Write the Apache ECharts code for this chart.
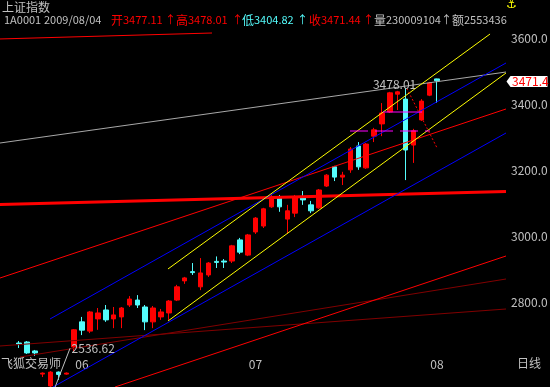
<!DOCTYPE html>
<html><head><meta charset="utf-8">
<script src="https://cdn.jsdelivr.net/npm/echarts@6/dist/echarts.min.js"></script>
<style>html,body{margin:0;padding:0;background:#000;}#c{width:550px;height:387px;}</style>
</head><body><div id="c"></div>
<script>
// ---------- data ----------
const dates = ['2009-05-19','2009-05-20','2009-05-21','2009-05-22','2009-05-25','2009-05-26','2009-05-27',
 '2009-06-01','2009-06-02','2009-06-03','2009-06-04','2009-06-05','2009-06-08','2009-06-09','2009-06-10','2009-06-11','2009-06-12',
 '2009-06-15','2009-06-16','2009-06-17','2009-06-18','2009-06-19','2009-06-22','2009-06-23','2009-06-24','2009-06-25','2009-06-26',
 '2009-06-29','2009-06-30',
 '2009-07-01','2009-07-02','2009-07-03','2009-07-06','2009-07-07','2009-07-08','2009-07-09','2009-07-10','2009-07-13','2009-07-14',
 '2009-07-15','2009-07-16','2009-07-17','2009-07-20','2009-07-21','2009-07-22','2009-07-23','2009-07-24','2009-07-27','2009-07-28',
 '2009-07-29','2009-07-30','2009-07-31',
 '2009-08-03','2009-08-04'];
const opens  = [2678,2681,2654,2584,2548,2590,2584,2666,2742,2714,2751,2778,2751,2757,2793,2808,2787,2742,2757,2769,2808,2866,2894,2848,2884,2925,2926,2926,2990,2944,3014,3032,3090,3117,3053,3071,3117,3096,3087,3153,3211,3180,3202,3274,3208,3304,3341,3377,3431,3416,3277,3353,3428,3477.11];
const closes = [2675,2648,2648,2587,2590,2583,2587,2718,2717,2772,2769,2748,2763,2784,2811,2793,2742,2784,2772,2805,2848,2875,2891,2890,2920,2922,2923,2972,2953,3005,3056,3084,3120,3090,3078,3120,3111,3078,3141,3186,3180,3186,3265,3211,3280,3323,3374,3435,3438,3262,3320,3410,3465,3471.44];
const lows   = [2663,2645,2639,2575,2536.62,2566,2582,2651,2702,2708,2718,2742,2723,2723,2787,2784,2717,2723,2748,2748,2805,2857,2884,2838,2878,2905,2905,2920,2947,2941,3008,3026,3087,3075,3008,3059,3096,3071,3084,3150,3168,3156,3193,3202,3205,3286,3304,3374,3383,3171,3223,3350,3425,3404.82];
const highs  = [2684,2684,2657,2589,2593,2592,2589,2720,2757,2775,2784,2793,2787,2787,2820,2823,2793,2790,2781,2808,2854,2878,2920,2935,2923,2940,2932,2975,2996,3008,3059,3087,3126,3126,3096,3126,3138,3108,3144,3189,3214,3196,3271,3286,3283,3329,3404,3438,3441,3450,3326,3416,3468,3478.01];
const volume = '230009104';
const amount = '2553436';
const priceTicks = [2800, 3000, 3200, 3400, 3600];
const monthLabels = ['06', '07', '08'];

// trend lines drawn on the chart: [index, price] end points
const grayLine     = [[-2.408, 3283.2], [61.72, 3498.0]];
const yellowUpper  = [[18.88, 2902.0], [59.70, 3613.0]];
const yellowLower  = [[18.88, 2744.6], [61.72, 3495.0]];
const blueUpper    = [[3.93, 2750.7], [61.72, 3525.3]];
const blueLower    = [[4.31, 2544.9], [61.72, 3313.5]];
const redThick     = [[-2.408, 3096.8], [61.72, 3136.5]];
const redA         = [[-2.408, 2874.7], [61.72, 3386.1]];
const redB         = [[12.17, 2544.9], [61.72, 2941.3]];
const redTop       = [[-2.408, 3598.0], [24.46, 3616.0]];
const darkRedC     = [[-2.408, 2669.0], [61.72, 2780.9]];
const darkRedD     = [[0.13, 2635.7], [61.72, 2871.7]];
const magentaSolid = [[46.13, 3377.0], [51.08, 3377.0]];
const magentaDash  = [[41.95, 3319.5], [52.09, 3319.5]];
const redDash      = [[49.14, 3448.7], [52.94, 3270.2]];

// ---------- chart ----------
const XMIN = -2.408, XMAX = 61.72;
const YMAX = 3700, YMIN = 2544.93;
const UP = '#ff0000', DOWN = '#54fcfc', GRAY = '#c0c0c0';
const FONT = '"Noto Sans CJK SC", sans-serif';

const monthIdx = [];
dates.forEach((d, i) => { if (i > 0 && d.slice(5,7) !== dates[i-1].slice(5,7)) monthIdx.push(i); });

const kData = dates.map((d, i) => [i, opens[i], closes[i], lows[i], highs[i]]);

function seg(data, color, width, type, z) {
  return { type: 'line', data: data, symbol: 'none', showSymbol: false, silent: true, clip: false,
    lineStyle: { color: color, width: width || 1, type: type || 'solid' }, z: z || 3, animation: false };
}

const chart = echarts.init(document.getElementById('c'), null, { renderer: 'canvas' });
chart.setOption({
  backgroundColor: '#000000',
  animation: false,
  textStyle: { fontFamily: FONT },
  grid: { left: 0, top: 5.25, width: 506, height: 381.75, outerBoundsMode: 'none' },
  xAxis: {
    type: 'value', min: XMIN, max: XMAX, offset: -37,
    axisLine: { show: false }, axisTick: { show: false }, splitLine: { show: false },
    axisLabel: { customValues: monthIdx, color: GRAY, fontSize: 12, fontFamily: FONT, align: 'left', margin: 8,
      padding: [0, 0, 0, 1],
      formatter: v => monthLabels[monthIdx.indexOf(Math.round(v))] || '' }
  },
  yAxis: {
    type: 'value', position: 'right', min: YMIN, max: YMAX,
    axisLine: { show: false }, axisTick: { show: false }, splitLine: { show: false },
    axisLabel: { customValues: priceTicks, color: GRAY, fontSize: 12, fontFamily: FONT, margin: 5,
      formatter: v => Number(v).toFixed(1) }
  },
  series: [
    seg(darkRedC, '#800000', 1),
    seg(darkRedD, '#800000', 1),
    seg(redB, UP, 1),
    seg(grayLine, '#a8a8a8', 1),
    seg(redTop, UP, 1),
    {
      type: 'candlestick', data: kData, encode: { x: 0, y: [1, 2, 3, 4] },
      barWidth: 5, z: 2, clip: false,
      itemStyle: { color: UP, color0: DOWN, borderColor: UP, borderColor0: DOWN, borderWidth: 1 }
    },
    seg(redThick, UP, 3, 'solid', 4),
    seg(redA, UP, 1, 'solid', 4),
    seg(blueUpper, '#0000ff', 1, 'solid', 4),
    seg(blueLower, '#0000ff', 1, 'solid', 4),
    seg(yellowUpper, '#ffff00', 1, 'solid', 4),
    seg(yellowLower, '#ffff00', 1, 'solid', 4),
    seg(magentaSolid, '#ff00ff', 1, 'solid', 4),
    seg(magentaDash, '#ff00ff', 1, [18, 7], 4),
    seg(redDash, UP, 1, [2, 2], 4)
  ]
});

// ---------- texts and labels ----------
const n = dates.length - 1;
const last = { o: opens[n], h: highs[n], l: lows[n], c: closes[n] };
const ymd = dates[n].replace(/-/g, '/');
const RICH = {
  c: { font: '12px ' + FONT },
  a: { font: '11px ' + FONT }
};
function rt(x, y, cjk, ascii, color) {
  const s = (cjk ? '{c|' + cjk + '}' : '') + (ascii ? '{a|' + ascii + '}' : '');
  return { type: 'text', x: x, y: y, silent: true,
    style: { text: s, fill: color, rich: RICH, textVerticalAlign: 'top', font: '11px ' + FONT } };
}
function txt(x, y, s, color, font) {
  return { type: 'text', x: x, y: y, silent: true,
    style: { text: s, fill: color, font: font || ('12px ' + FONT), textVerticalAlign: 'top' } };
}
const header = [
  txt(2, 1, '上证指数', GRAY),
  rt(4, 14, '', '1A0001', GRAY),
  rt(44, 14, '', ymd, GRAY),
  rt(111, 14, '开', last.o.toFixed(2), UP), rt(165, 14, '', '↑', UP),
  rt(176, 14, '高', last.h.toFixed(2), UP), rt(232, 14, '', '↑', UP),
  rt(242, 14, '低', last.l.toFixed(2), DOWN), rt(297, 14, '', '↑', DOWN),
  rt(309, 14, '收', last.c.toFixed(2), UP), rt(363, 14, '', '↑', UP),
  rt(374, 14, '量', volume, GRAY), rt(441, 14, '', '↑', GRAY),
  rt(452, 14, '额', amount, GRAY),
  txt(506, -1, '⚓', '#ffff00', 'bold 12px "DejaVu Sans"'),
  txt(1, 357, '飞狐交易师', GRAY),
  txt(517, 357, '日线', GRAY)
];

// max / min labels, price tag
let hiIdx = 0, loIdx = 0;
highs.forEach((v, i) => { if (v > highs[hiIdx]) hiIdx = i; });
lows.forEach((v, i) => { if (v < lows[loIdx]) loIdx = i; });
const hp = chart.convertToPixel({ gridIndex: 0 }, [hiIdx, highs[hiIdx]]);
const lp = chart.convertToPixel({ gridIndex: 0 }, [loIdx, lows[loIdx]]);
const cp = chart.convertToPixel({ gridIndex: 0 }, [XMAX, last.c]);

const marks = [
  { type: 'text', x: hp[0] - 21, y: hp[1] + 6, silent: true, z: 10,
    style: { text: highs[hiIdx].toFixed(2), fill: GRAY, font: '12px ' + FONT, textAlign: 'right', textVerticalAlign: 'middle' } },
  { type: 'line', silent: true, z: 10, shape: { x1: lp[0] + 3.5, y1: lp[1], x2: lp[0] + 19.5, y2: lp[1] - 41.5 },
    style: { stroke: GRAY, lineWidth: 1 } },
  { type: 'text', x: lp[0] + 21, y: lp[1] - 41.5, silent: true, z: 10,
    style: { text: lows[loIdx].toFixed(2), fill: GRAY, font: '12px ' + FONT, textAlign: 'left', textVerticalAlign: 'middle' } },
  { type: 'polygon', silent: true, z: 10, x: cp[0] + 0.5, y: cp[1] + 0.8,
    shape: { points: [[0, 0], [4, -5.5], [41, -5.5], [41, 5.5], [4, 5.5]] }, style: { fill: '#ffffff' } },
  { type: 'text', silent: true, z: 11, x: cp[0] + 6, y: cp[1] + 1,
    style: { text: last.c.toFixed(1), fill: UP, font: '12px ' + FONT, textAlign: 'left', textVerticalAlign: 'middle' } }
];

chart.setOption({ graphic: header.concat(marks) });
</script>
</body></html>
